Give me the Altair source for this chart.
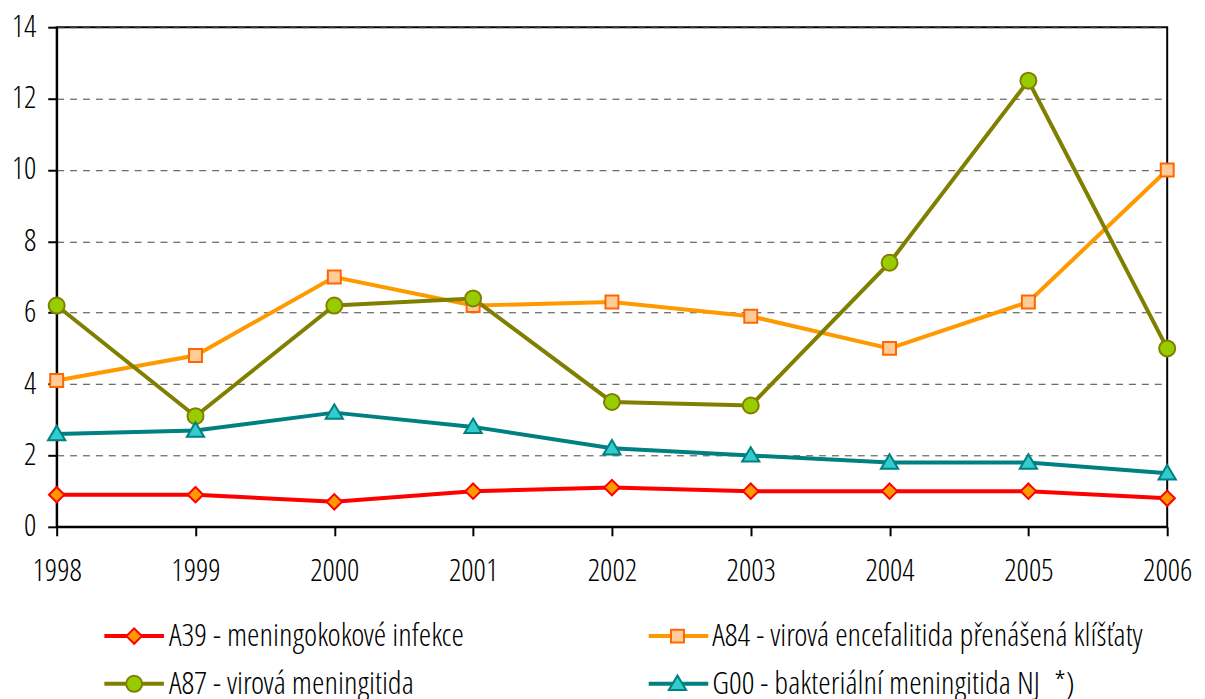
import altair as alt
import pandas as pd

FONT = "Open Sans Condensed Light"

years = [1998, 1999, 2000, 2001, 2002, 2003, 2004, 2005, 2006]
series_names = [
    "A39 - meningokokové infekce",
    "A84 - virová encefalitida přenášená klíšťaty",
    "A87 - virová meningitida",
    "G00 - bakteriální meningitida NJ\u00a0 *)",
]
a39 = [0.9, 0.9, 0.7, 1.0, 1.1, 1.0, 1.0, 1.0, 0.8]
a84 = [4.1, 4.8, 7.0, 6.2, 6.3, 5.9, 5.0, 6.3, 10.0]
a87 = [6.2, 3.1, 6.2, 6.4, 3.5, 3.4, 7.4, 12.5, 5.0]
g00 = [2.6, 2.7, 3.2, 2.8, 2.2, 2.0, 1.8, 1.8, 1.5]
y_ticks = [0, 2, 4, 6, 8, 10, 12, 14]

line_colors = ["#FF0000", "#FF9900", "#808000", "#008080"]
marker_fill = ["#FF9900", "#FFCC99", "#99CC00", "#33CCCC"]
marker_stroke = ["#FF0000", "#FF6600", "#808000", "#008080"]
marker_shapes = [
    "M-1,0M1,0M0,-0.25L0.25,0L0,0.25L-0.25,0Z",
    "M-1,0M1,0M-0.21,-0.21L0.21,-0.21L0.21,0.21L-0.21,0.21Z",
    "M-1,0M1,0M-0.26,0A0.26,0.26,0,1,1,0.26,0A0.26,0.26,0,1,1,-0.26,0Z",
    "M-1,0M1,0M0,-0.27L0.28,0.2L-0.28,0.2Z",
]

rows = []
for name, vals in zip(series_names, [a39, a84, a87, g00]):
    for yr, v in zip(years, vals):
        rows.append({"year": yr, "value": v, "series": name, "label": name})
df = pd.DataFrame(rows)

legend_common = dict(
    title=None, orient="none", legendX=46, legendY=581, direction="horizontal",
    columns=2, rowPadding=0, labelFont=FONT, labelFontSize=32,
    labelColor="black", labelOffset=3, labelLimit=1000, padding=0,
)

# line part of the legend (labels blanked, the point legend carries the text)
line_legend = alt.Legend(symbolType="stroke", symbolSize=3600, symbolStrokeWidth=4,
                         columnPadding=472, labelExpr="'\u00a0'", **legend_common)
point_legend = alt.Legend(symbolSize=3844, symbolStrokeWidth=2, columnPadding=179,
                          **legend_common)

x_enc = alt.X(
    "year:Q",
    scale=alt.Scale(domain=[1998, 2006], nice=False, zero=False),
    axis=alt.Axis(values=years, format="d", title=None, grid=False, labelFlush=False,
                  tickSize=9, tickWidth=2, tickColor="black", domainColor="black",
                  domainWidth=2, labelFontSize=31, labelFont=FONT,
                  labelPadding=21, labelColor="black"),
)
y_enc = alt.Y(
    "value:Q",
    scale=alt.Scale(domain=[0, 14], nice=False),
    axis=alt.Axis(values=y_ticks, title=None, grid=True, gridDash=[7, 6], gridColor="#444444",
                  gridWidth=1, tickSize=9, tickWidth=2, tickColor="black", domainColor="black",
                  domainWidth=2, labelFontSize=31, labelFont=FONT, labelPadding=12,
                  labelColor="black"),
)

base = alt.Chart(df)

lines = base.mark_line(strokeWidth=4).encode(
    x=x_enc, y=y_enc,
    color=alt.Color("series:N",
                    scale=alt.Scale(range=line_colors),
                    legend=line_legend),
)

points = base.mark_point(filled=True, size=3844, strokeWidth=2, opacity=1).encode(
    x=x_enc, y=y_enc,
    shape=alt.Shape("label:N",
                    scale=alt.Scale(domain=series_names, range=marker_shapes),
                    legend=point_legend),
    fill=alt.Fill("label:N",
                  scale=alt.Scale(domain=series_names, range=marker_fill),
                  legend=point_legend),
    stroke=alt.Stroke("label:N",
                      scale=alt.Scale(domain=series_names, range=marker_stroke),
                      legend=point_legend),
)

chart = alt.layer(lines, points).properties(
    width=1118, height=503,
    padding={"left": 49, "top": 17, "right": 30, "bottom": 171},
    autosize=alt.AutoSizeParams(type="none"),
    background="white",
).configure_view(stroke="black", strokeWidth=2)

chart.save("out.html", embed_options={"renderer": "svg", "actions": False})
